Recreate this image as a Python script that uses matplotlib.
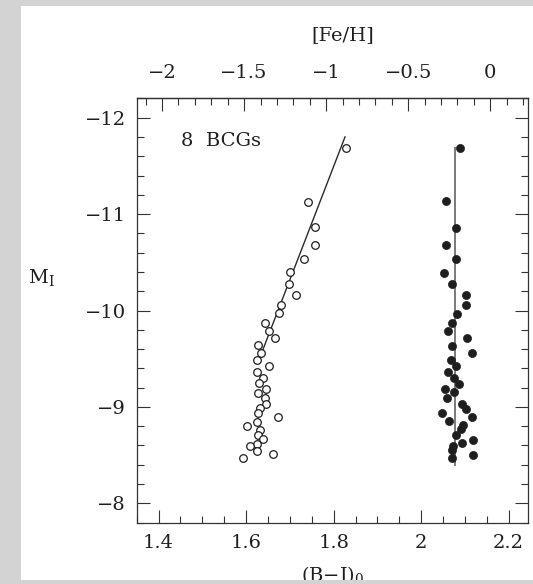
import matplotlib
matplotlib.use("Agg")
import matplotlib.pyplot as plt
from matplotlib.patches import Rectangle
from matplotlib.ticker import FixedLocator, MultipleLocator, FixedFormatter

plt.rcParams["font.family"] = ["DejaVu Serif"]
plt.rcParams["mathtext.fontset"] = "dejavuserif"

# Metal-poor (blue) globular clusters: colour and luminosity
blue_bi = [1.828, 1.741, 1.757, 1.757, 1.733, 1.700, 1.698, 1.714, 1.680, 1.676,
           1.643, 1.652, 1.666, 1.628, 1.633, 1.624, 1.653, 1.624, 1.639, 1.630,
           1.645, 1.628, 1.643, 1.645, 1.632, 1.628, 1.673, 1.626, 1.603, 1.632,
           1.628, 1.639, 1.625, 1.609, 1.625, 1.661, 1.593]
blue_mi = [-11.69, -11.13, -10.87, -10.68, -10.53, -10.40, -10.28, -10.16, -10.06, -9.97,
           -9.87, -9.79, -9.71, -9.64, -9.56, -9.49, -9.42, -9.36, -9.30, -9.25,
           -9.19, -9.14, -9.09, -9.03, -8.99, -8.94, -8.90, -8.84, -8.80, -8.76,
           -8.71, -8.67, -8.62, -8.59, -8.54, -8.51, -8.47]

# Metal-rich (red) globular clusters
red_bi = [2.089, 2.056, 2.079, 2.056, 2.080, 2.053, 2.070, 2.102, 2.102, 2.083,
          2.070, 2.061, 2.104, 2.071, 2.117, 2.068, 2.080, 2.062, 2.075, 2.087,
          2.055, 2.075, 2.060, 2.094, 2.102, 2.048, 2.117, 2.064, 2.096, 2.090,
          2.079, 2.118, 2.093, 2.073, 2.071, 2.119, 2.071]
red_mi = [-11.69, -11.14, -10.86, -10.68, -10.53, -10.39, -10.27, -10.16, -10.06, -9.96,
          -9.87, -9.79, -9.71, -9.63, -9.56, -9.49, -9.42, -9.36, -9.30, -9.24,
          -9.19, -9.15, -9.09, -9.03, -8.98, -8.94, -8.90, -8.85, -8.81, -8.77,
          -8.71, -8.66, -8.63, -8.59, -8.55, -8.50, -8.47]

# Mass-metallicity trend of the blue sequence and constant colour of the red one
blue_fit_bi = [1.627, 1.826]
blue_fit_mi = [-9.46, -11.80]
red_fit_bi = [2.077, 2.077]
red_fit_mi = [-8.40, -11.69]

# Colour-metallicity conversion: (B-I)0 = 2.158 + 0.375 [Fe/H]
ZP, SLOPE = 2.158, 0.375

x_ticks = [1.4, 1.6, 1.8, 2.0, 2.2]
x_labels = ["1.4", "1.6", "1.8", "2", "2.2"]
y_ticks = [-12, -11, -10, -9, -8]
y_labels = ["\u221212", "\u221211", "\u221210", "\u22129", "\u22128"]
feh_ticks = [-2, -1.5, -1, -0.5, 0]
feh_labels = ["\u22122", "\u22121.5", "\u22121", "\u22120.5", "0"]

W, H = 533, 584
fig = plt.figure(figsize=(W / 100, H / 100), dpi=100, facecolor="white")

ink = "#1e1e1e"
ax = fig.add_axes([136.7 / W, 1 - 522.6 / H, 390.8 / W, 424.2 / H])
ax.set_xlim(1.35, 2.243)
ax.set_ylim(-7.8, -12.2)

ax.scatter(blue_bi, blue_mi, s=30, facecolors="white", edgecolors=ink,
           linewidths=0.9, zorder=3)
ax.scatter(red_bi, red_mi, s=34, facecolors=ink, edgecolors=ink,
           linewidths=0.5, zorder=3)
ax.plot(blue_fit_bi, blue_fit_mi, color="#2a2a2a", lw=1.0, zorder=2)
ax.plot(red_fit_bi, red_fit_mi, color="#7a7a7a", lw=1.4, zorder=2)

for s in ax.spines.values():
    s.set_color("#333333")
    s.set_linewidth(0.9)

ax.xaxis.set_major_locator(FixedLocator(x_ticks))
ax.xaxis.set_major_formatter(FixedFormatter(x_labels))
ax.xaxis.set_minor_locator(MultipleLocator(0.05))
ax.yaxis.set_major_locator(FixedLocator(y_ticks))
ax.yaxis.set_major_formatter(FixedFormatter(y_labels))
ax.yaxis.set_minor_locator(MultipleLocator(0.2))

ax.tick_params(which="both", direction="in", color="#333333", width=0.8,
               top=False, right=True, labelright=False, labelsize=14,
               labelcolor=ink)
ax.tick_params(which="major", length=9.5)
ax.tick_params(which="minor", length=4.7)
ax.tick_params(axis="y", pad=8)
ax.tick_params(axis="x", pad=8.5)

sec = ax.secondary_xaxis("top", functions=(lambda b: (b - ZP) / SLOPE,
                                           lambda f: ZP + SLOPE * f))
sec.xaxis.set_major_locator(FixedLocator(feh_ticks))
sec.xaxis.set_major_formatter(FixedFormatter(feh_labels))
sec.xaxis.set_minor_locator(MultipleLocator(0.1))
sec.tick_params(which="both", direction="in", color="#333333", width=0.8,
                labelsize=14, labelcolor=ink, pad=12)
sec.tick_params(which="major", length=9.5)
sec.tick_params(which="minor", length=4.7)
sec.spines["top"].set_color("#333333")
sec.spines["top"].set_linewidth(0.9)

fig.text(181 / W, 1 - 141 / H, "8  BCGs", fontsize=14, color=ink,
         ha="left", va="center")
fig.text(343 / W, 1 - 35.3 / H, "[Fe/H]", fontsize=14, color=ink,
         ha="center", va="center")
fig.text(41 / W, 1 - 278 / H, r"M$_\mathrm{I}$", fontsize=14, color=ink,
         ha="center", va="center")
fig.text(333 / W, 1 - 564 / H, r"(B$-$I)$_0$", fontsize=14, color=ink,
         ha="center", va="top")

# grey surround of the page
grey = "#d3d3d3"
for (x0, y0, w, h) in [(0, 0, 21, H), (0, 0, W, 6), (0, 580, W, 4)]:
    fig.add_artist(Rectangle((x0 / W, 1 - (y0 + h) / H), w / W, h / H,
                             transform=fig.transFigure, facecolor=grey,
                             edgecolor="none", zorder=100))

fig.savefig("out.png", dpi=100, facecolor=fig.get_facecolor())
